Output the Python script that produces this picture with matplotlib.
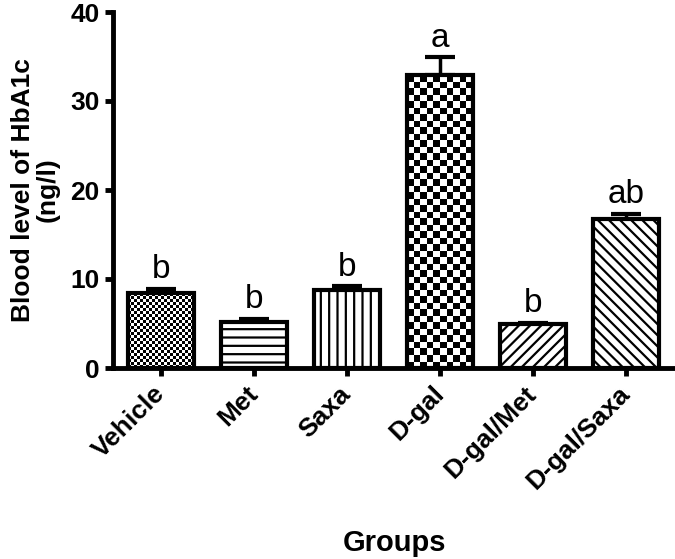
import matplotlib
matplotlib.use('Agg')
import matplotlib.pyplot as plt
import numpy as np

plt.rcParams['font.family'] = ['Liberation Sans', 'DejaVu Sans']
plt.rcParams['hatch.linewidth'] = 1.6

groups = ['Vehicle', 'Met', 'Saxa', 'D-gal', 'D-gal/Met', 'D-gal/Saxa']
means = [8.4, 5.2, 8.8, 32.9, 4.9, 16.7]
errs = [0.5, 0.35, 0.4, 2.0, 0.15, 0.6]
letters = ['b', 'b', 'b', 'a', 'b', 'ab']
# hatch per group; 'c' = checker cell size in pixels
patterns = [('c', 3), ('--', 0), ('||', 0), ('c', 6.5), ('///', 0), ('\\\\\\', 0)]

fig = plt.figure(figsize=(6.75, 5.59), dpi=100)
ax = fig.add_axes([113/675, 1-368/559, 1-113/675, (368-12)/559])

x = np.arange(len(groups))
w = 0.71
xl = (-0.52, 5.53)
ax.set_xlim(*xl)
ax.set_ylim(0, 40)

bars = ax.bar(x, means, w, color='white', edgecolor='black', linewidth=3, zorder=3)
ax.errorbar(x, means, yerr=[np.zeros(len(errs)), errs], fmt='none', ecolor='black',
            elinewidth=2.5, capsize=11, capthick=3, zorder=2)

for b, (hp, cell) in zip(bars, patterns):
    if hp == 'c':
        b.set_facecolor('none')
        x0, y0 = b.get_x(), 0
        x1, y1 = b.get_x() + b.get_width(), b.get_height()
        p0 = ax.transData.transform((x0, y0))
        p1 = ax.transData.transform((x1, y1))
        nc = max(1, int(round((p1[0] - p0[0]) / cell)))
        nr = max(1, int(round((p1[1] - p0[1]) / cell)))
        board = np.indices((nr, nc)).sum(axis=0) % 2
        im = ax.imshow(board, cmap='gray', extent=(x0, x1, y0, y1), aspect='auto',
                       interpolation='nearest', zorder=2.5, origin='lower')
        im.set_clip_path(b)
    else:
        b.set_hatch(hp)

ax.set_xlim(*xl)
ax.set_ylim(0, 40)

for xi, m, e, t in zip(x, means, errs, letters):
    ax.text(xi, m + e + 0.4, t, ha='center', va='bottom', fontsize=24)

ax.spines['top'].set_visible(False)
ax.spines['right'].set_visible(False)
ax.spines['left'].set_linewidth(3.5)
ax.spines['bottom'].set_linewidth(3.5)
ax.set_yticks([0, 10, 20, 30, 40])
ax.tick_params(axis='both', width=3.5, length=6, labelsize=19)
ax.tick_params(axis='x', pad=10)
ax.set_xticks(x)
ax.set_xticklabels(groups, rotation=45, ha='right', va='center', rotation_mode='anchor',
                   fontweight='bold')
for lab in ax.get_yticklabels():
    lab.set_fontweight('bold')

ax.set_ylabel('Blood level of HbA1c\n(ng/l)', fontsize=19, fontweight='bold', labelpad=8,
              linespacing=1.0)
ax.set_xlabel('Groups', fontsize=21, fontweight='bold', labelpad=25)

plt.savefig('out.png', dpi=100)
